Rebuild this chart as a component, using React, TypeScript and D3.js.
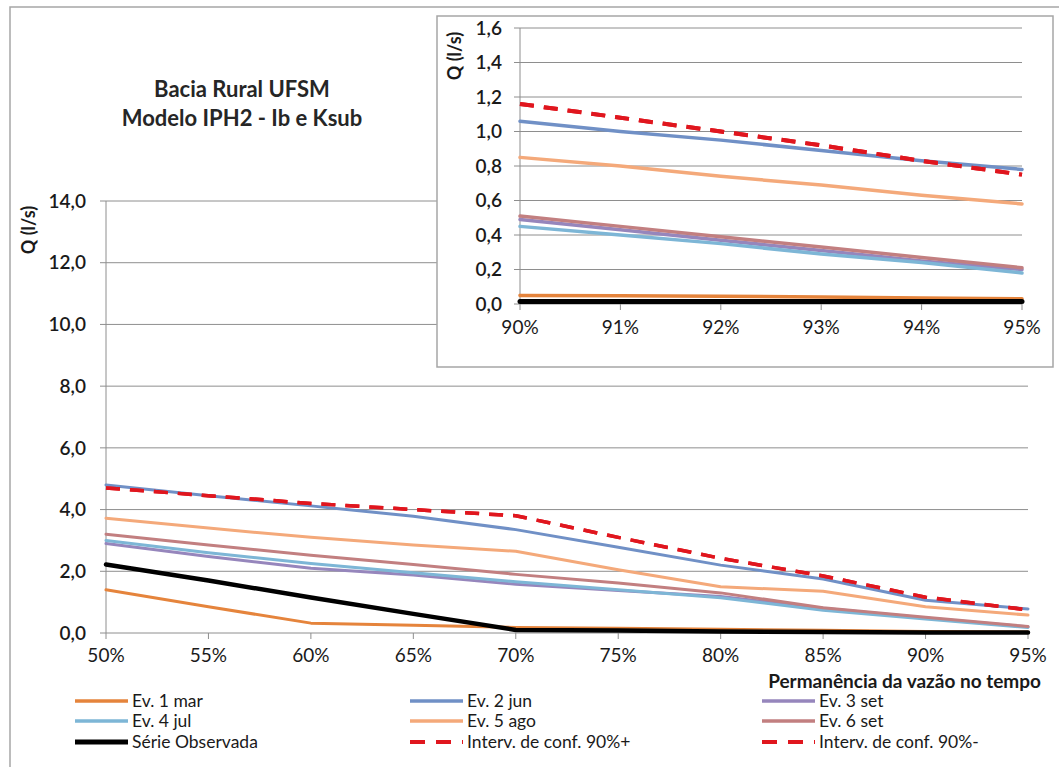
import React from "react";
import * as d3 from "d3";

const categories = ["50%", "55%", "60%", "65%", "70%", "75%", "80%", "85%", "90%", "95%"];
const ev1 = [1.4, 0.85, 0.32, 0.25, 0.18, 0.15, 0.12, 0.09, 0.05, 0.03];
const ev2 = [4.8, 4.45, 4.12, 3.78, 3.35, 2.78, 2.2, 1.75, 1.06, 0.78];
const ev3 = [2.9, 2.48, 2.1, 1.88, 1.58, 1.38, 1.18, 0.8, 0.49, 0.2];
const ev4 = [3.0, 2.6, 2.25, 1.95, 1.66, 1.4, 1.14, 0.74, 0.45, 0.18];
const ev5 = [3.72, 3.4, 3.1, 2.85, 2.65, 2.05, 1.5, 1.35, 0.85, 0.58];
const ev6 = [3.2, 2.85, 2.52, 2.22, 1.9, 1.62, 1.3, 0.82, 0.51, 0.21];
const obs = [2.22, 1.7, 1.15, 0.62, 0.1, 0.08, 0.05, 0.03, 0.02, 0.02];
const icPlus = [4.7, 4.45, 4.2, 4.0, 3.8, 3.1, 2.42, 1.85, 1.16, 0.75];
const icMinus = [4.7, 4.45, 4.2, 4.0, 3.8, 3.1, 2.42, 1.85, 1.16, 0.75];

const insetCategories = ["90%", "91%", "92%", "93%", "94%", "95%"];
const ev1Inset = [0.05, 0.048, 0.045, 0.04, 0.035, 0.03];
const ev2Inset = [1.06, 1.0, 0.95, 0.89, 0.83, 0.78];
const ev3Inset = [0.49, 0.43, 0.37, 0.31, 0.25, 0.2];
const ev4Inset = [0.45, 0.4, 0.35, 0.29, 0.24, 0.18];
const ev5Inset = [0.85, 0.8, 0.74, 0.69, 0.63, 0.58];
const ev6Inset = [0.51, 0.45, 0.39, 0.33, 0.27, 0.21];
const obsInset = [0.015, 0.015, 0.015, 0.015, 0.015, 0.015];
const icPlusInset = [1.16, 1.08, 1.0, 0.92, 0.83, 0.75];
const icMinusInset = [1.16, 1.08, 1.0, 0.92, 0.83, 0.75];

const mainTicks = [0, 2, 4, 6, 8, 10, 12, 14];
const insetTicks = [0, 0.2, 0.4, 0.6, 0.8, 1.0, 1.2, 1.4, 1.6];

const seriesNames = [
  "Ev. 1 mar", "Ev. 2 jun", "Ev. 3 set",
  "Ev. 4 jul", "Ev. 5 ago", "Ev. 6 set",
  "Série Observada", "Interv. de conf. 90%+", "Interv. de conf. 90%-",
];
const mainData = [ev1, ev2, ev3, ev4, ev5, ev6, obs, icPlus, icMinus];
const insetData = [ev1Inset, ev2Inset, ev3Inset, ev4Inset, ev5Inset, ev6Inset, obsInset, icPlusInset, icMinusInset];

const styles = [
  { color: "#E5843C", width: 3, dash: null },
  { color: "#7090C6", width: 3, dash: null },
  { color: "#9686BC", width: 3, dash: null },
  { color: "#7DB6D6", width: 3, dash: null },
  { color: "#F4A97A", width: 3, dash: null },
  { color: "#C27F80", width: 3, dash: null },
  { color: "#000000", width: 4.5, dash: null },
  { color: "#E0161E", width: 3.5, dash: "14,10" },
  { color: "#E0161E", width: 3.5, dash: "14,10" },
];

const FONT = "Lato, 'Open Sans', sans-serif";
const GRID = "#8E8E8E";
const TXT = "#1a1a1a";

const fmt = (v: number) => v.toFixed(1).replace(".", ",");

export default function App() {
  const x = d3.scalePoint<string>().domain(categories).range([106, 1028]);
  const y = d3.scaleLinear().domain([0, 14]).range([633, 201]);
  const line = d3
    .line<number>()
    .x((_, i) => x(categories[i]) as number)
    .y((d) => y(d));

  const xi = d3.scalePoint<string>().domain(insetCategories).range([520, 1022]);
  const yi = d3.scaleLinear().domain([0, 1.6]).range([304, 28]);
  const lineI = d3
    .line<number>()
    .x((_, i) => xi(insetCategories[i]) as number)
    .y((d) => yi(d));

  const legendCols = [75, 410, 762];
  const legendRows = [701, 721, 742];

  return (
    <div style={{ position: "absolute", left: 0, top: 0 }}>
      <svg width={1059} height={767} style={{ display: "block", background: "#fff" }} fontFamily={FONT}>
        <rect x={10} y={7} width={1100} height={800} fill="#fff" stroke="#A6A6A6" strokeWidth={1.5} />

        <text x={242} y={97} textAnchor="middle" fontSize={22} fontWeight={700} fill="#262626">Bacia Rural UFSM</text>
        <text x={242} y={126} textAnchor="middle" fontSize={22} fontWeight={700} fill="#262626">Modelo IPH2 - Ib e Ksub</text>

        {mainTicks.filter((t) => t > 0).map((t) => (
          <line key={"g" + t} x1={106} x2={1028} y1={y(t)} y2={y(t)} stroke={GRID} strokeWidth={1} />
        ))}
        <line x1={106} x2={106} y1={y(14)} y2={y(0)} stroke={GRID} strokeWidth={1} />
        {mainTicks.map((t) => (
          <g key={"yt" + t}>
            <line x1={100} x2={106} y1={y(t)} y2={y(t)} stroke={GRID} />
            <text x={86} y={y(t)} dy="0.35em" textAnchor="end" fontSize={19} fontWeight={600} fill={TXT}>{fmt(t)}</text>
          </g>
        ))}
        <line x1={106} x2={1028} y1={y(0)} y2={y(0)} stroke={GRID} strokeWidth={1} />
        {categories.map((c) => (
          <g key={"xt" + c}>
            <line x1={x(c)} x2={x(c)} y1={y(0)} y2={y(0) + 6} stroke={GRID} />
            <text x={x(c)} y={y(0) + 29} textAnchor="middle" fontSize={19} fill={TXT}>{c}</text>
          </g>
        ))}
        <text transform={`translate(35,230) rotate(-90)`} textAnchor="middle" fontSize={18} fontWeight={700} fill={TXT}>Q (l/s)</text>
        <text x={1041} y={688} textAnchor="end" fontSize={19} fontWeight={700} fill={TXT}>Permanência da vazão no tempo</text>

        {mainData.map((d, i) => (
          <path key={"s" + i} d={line(d) || ""} fill="none" stroke={styles[i].color} strokeWidth={styles[i].width}
            strokeDasharray={styles[i].dash || undefined} strokeLinejoin="round" strokeLinecap={styles[i].dash ? "butt" : "round"} />
        ))}

        {seriesNames.map((name, i) => {
          const cx = legendCols[i % 3];
          const cy = legendRows[Math.floor(i / 3)];
          return (
            <g key={"l" + i}>
              <line x1={cx} x2={cx + 53} y1={cy} y2={cy} stroke={styles[i].color} strokeWidth={styles[i].width + 0.5}
                strokeDasharray={styles[i].dash ? "15,11" : undefined} />
              <text x={cx + 57} y={cy} dy="0.35em" fontSize={17.5} fill={TXT}>{name}</text>
            </g>
          );
        })}

        <rect x={437} y={16} width={616} height={351} fill="#fff" stroke="#A6A6A6" strokeWidth={1.5} />
        {insetTicks.filter((t) => t > 0).map((t) => (
          <line key={"ig" + t} x1={520} x2={1022} y1={yi(t)} y2={yi(t)} stroke={GRID} strokeWidth={1} />
        ))}
        <line x1={520} x2={520} y1={yi(1.6)} y2={yi(0)} stroke={GRID} />
        {insetTicks.map((t) => (
          <g key={"iyt" + t}>
            <line x1={514} x2={520} y1={yi(t)} y2={yi(t)} stroke={GRID} />
            <text x={502} y={yi(t)} dy="0.35em" textAnchor="end" fontSize={19} fontWeight={600} fill={TXT}>{fmt(t)}</text>
          </g>
        ))}
        <line x1={520} x2={1022} y1={yi(0)} y2={yi(0)} stroke={GRID} />
        {insetCategories.map((c) => (
          <g key={"ixt" + c}>
            <line x1={xi(c)} x2={xi(c)} y1={yi(0)} y2={yi(0) + 6} stroke={GRID} />
            <text x={xi(c)} y={yi(0) + 30} textAnchor="middle" fontSize={19} fill={TXT}>{c}</text>
          </g>
        ))}
        <text transform={`translate(461,56) rotate(-90)`} textAnchor="middle" fontSize={18} fontWeight={700} fill={TXT}>Q (l/s)</text>
        {insetData.map((d, i) => (
          <path key={"is" + i} d={lineI(d) || ""} fill="none" stroke={styles[i].color} strokeWidth={styles[i].width + 0.5}
            strokeDasharray={styles[i].dash || undefined} strokeLinecap={styles[i].dash ? "butt" : "round"} />
        ))}
      </svg>
    </div>
  );
}
